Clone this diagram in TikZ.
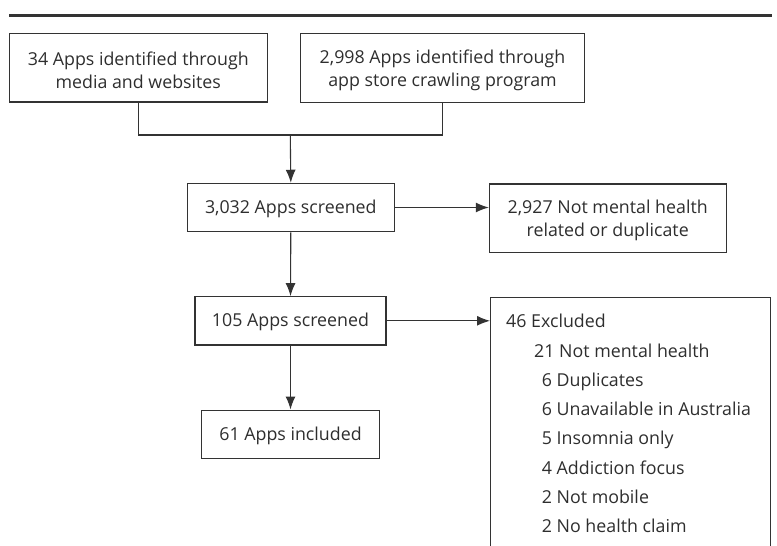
\documentclass[tikz,border=0pt]{standalone}
\usepackage{fontspec}
\setmainfont{Open Sans}
\usetikzlibrary{arrows.meta}
\definecolor{ln}{HTML}{333333}
\definecolor{tx}{HTML}{2e2e2e}
\begin{document}
\begin{tikzpicture}[x=1pt,y=-1pt,
 box/.style={draw=ln,line width=1.1pt,inner sep=0pt},
 txt/.style={inner sep=0pt,align=center,font=\fontsize{17.8}{22.4}\selectfont,text=tx},
 conn/.style={draw=ln,line width=1.1pt},
 arr/.style={conn,-{Latex[length=13pt,width=10pt]}},
 lbl/.style={anchor=west,inner sep=0pt,text height=13pt,text depth=4pt,font=\fontsize{17.8}{22.4}\selectfont,text=tx}]
\useasboundingbox (0,0) rectangle (777,546);
\clip (0,0) rectangle (777,546);
\fill[ln] (9,14) rectangle (772,17.3);
\node[box,minimum width=258pt,minimum height=68.4pt] (a) at (138.3,67.8) {};
\node[box,minimum width=283.6pt,minimum height=69pt] (b) at (442.5,67.8) {};
\node[box,minimum width=207pt,minimum height=48.4pt] (c) at (290.8,207.5) {};
\node[box,minimum width=236.7pt,minimum height=68.7pt] (d) at (607.7,218.3) {};
\node[box,minimum width=191pt,minimum height=48.3pt] (e) at (290.5,320.8) {};
\node[box,minimum width=177.6pt,minimum height=48.3pt] (f) at (290.5,434.2) {};
\node[box,anchor=north west,minimum width=280pt,minimum height=300pt] (g) at (490,296.7) {};
\node[txt] (at) at ([yshift=-2.5pt]a.center) {34 Apps identified through\\media and websites};
\node[txt] (bt) at ([yshift=-2.5pt]b.center) {2,998 Apps identified through\\app store crawling program};
\node[txt] (dt) at ([yshift=-2pt]d.center) {2,927 Not mental health\\related or duplicate};
\node[lbl,anchor=center] (ct) at ([yshift=-1.5pt]c.center) {3,032 Apps screened};
\node[lbl,anchor=center] (et) at ([yshift=-1.5pt]e.center) {105 Apps screened};
\node[lbl,anchor=center] (ft) at ([yshift=-1.5pt]f.center) {61 Apps included};
\coordinate (j) at (290.3,135);
\draw[conn] (a.south) -- (a.south |- j) -- (b.south |- j) -- (b.south);
\draw[arr] (j) -- (c.north);
\draw[arr] (c.east) -- (c.east -| d.west);
\draw[arr] (c.south) -- (e.north);
\draw[arr] (e.east) -- (e.east -| g.west);
\draw[arr] (e.south) -- (f.north);
\node[lbl] (g0) at (506,322.5) {46 Excluded};
\node[lbl] (g1) at (534,352.5) {21 Not mental health};
\node[lbl] (g2) at (541.7,381.7) {6 Duplicates};
\node[lbl] (g3) at (541.7,410.9) {6 Unavailable in Australia};
\node[lbl] (g4) at (541.7,440.2) {5 Insomnia only};
\node[lbl] (g5) at (541.7,469.5) {4 Addiction focus};
\node[lbl] (g6) at (541.7,498.7) {2 Not mobile};
\node[lbl] (g7) at (541.7,528) {2 No health claim};
\end{tikzpicture}
\end{document}
